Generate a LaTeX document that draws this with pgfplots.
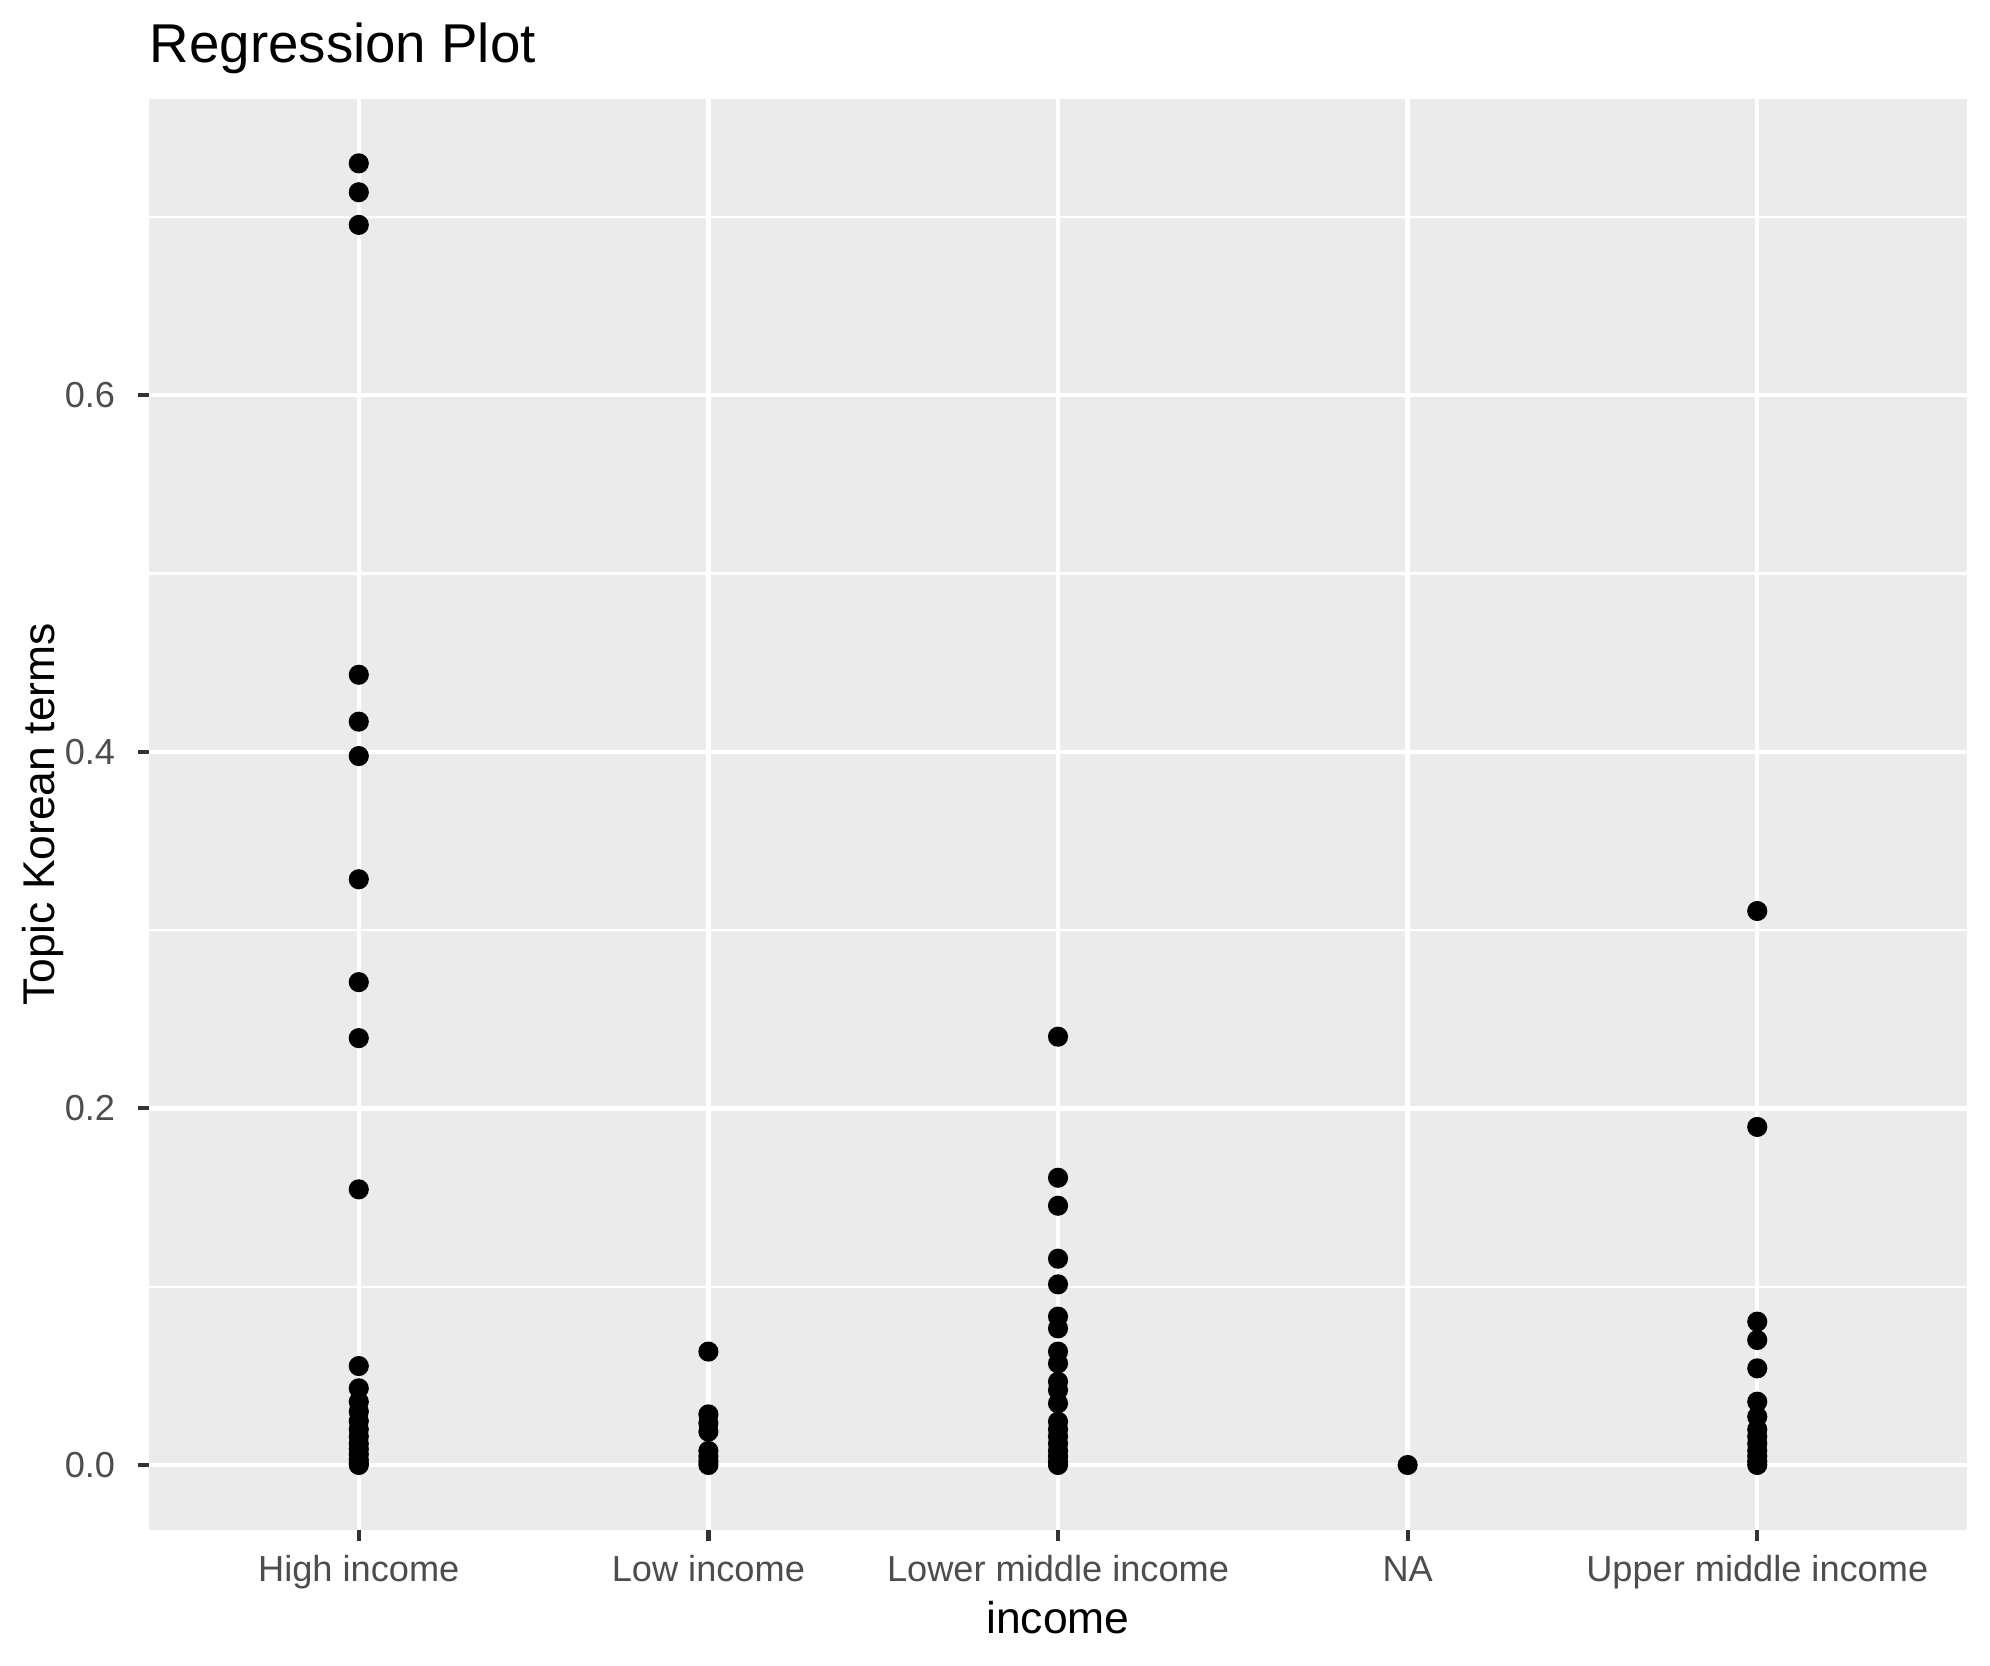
\documentclass[border=0pt]{standalone}
\usepackage{fontspec}
\setmainfont{Liberation Sans}
\usepackage{pgfplots}
\pgfplotsset{compat=1.18}
\usetikzlibrary{calc}
\definecolor{panelbg}{HTML}{EBEBEB}
\definecolor{tickc}{HTML}{333333}
\definecolor{ticklab}{HTML}{4D4D4D}
\begin{document}
\begin{tikzpicture}
\useasboundingbox (0,0) rectangle (504bp,421.69bp);
\begin{axis}[
  at={(37.74bp,34.19bp)}, anchor=south west,
  scale only axis, width=460.44bp, height=362.43bp,
  xmin=-0.6, xmax=4.6, ymin=-0.03646, ymax=0.7661,
  axis background/.style={fill=panelbg},
  axis line style={draw=none},
  xtick={0,1,2,3,4},
  xticklabels={High income, Low income, Lower middle income, NA, Upper middle income},
  ytick={0,0.2,0.4,0.6},
  minor ytick={0.1,0.3,0.5,0.7},
  scaled y ticks=false,
  /pgf/number format/fixed,
  /pgf/number format/fixed zerofill,
  /pgf/number format/precision=1,
  /pgf/number format/assume math mode=true,
  tick pos=left,
  tick align=outside,
  major tick length=2.75bp,
  minor tick length=0pt,
  tick style={draw=tickc, line width=1.07bp},
  xmajorgrids, ymajorgrids, yminorgrids,
  major grid style={draw=white, line width=1.1bp},
  minor grid style={draw=white, line width=0.55bp},
  ticklabel style={font=\fontsize{9.2}{11}\selectfont, text=ticklab},
  xticklabel style={anchor=base, yshift=-10.4bp},
  yticklabel style={anchor=east, inner sep=0pt, xshift=-5.65bp},
  xlabel={income},
  xlabel style={at={(axis description cs:0.5,0)}, anchor=base, yshift=-26.3bp, font=\fontsize{11.3}{13}\selectfont, text=black},
  ylabel={Topic Korean terms},
  ylabel style={at={($(axis description cs:0,0.5)+(-24bp,0)$)}, anchor=base, font=\fontsize{11.3}{13}\selectfont, text=black},
  title={Regression Plot},
  every axis title shift=0pt,
  title style={at={(axis description cs:0,1)}, anchor=base west, inner sep=0pt, yshift=9.2bp, font=\fontsize{13.9}{16}\selectfont, text=black},
]
\addplot[only marks, mark=*, mark size=2.35bp, mark options={draw=none, fill=black}] table {
x y
0 0.730
0 0.7138
0 0.6955
0 0.4432
0 0.4169
0 0.3976
0 0.3285
0 0.2708
0 0.2394
0 0.1546
0 0.0555
0 0.043
0 0.0355
0 0.030
0 0.0247
0 0.020
0 0.016
0 0.012
0 0.009
0 0.006
0 0.003
0 0.001
0 0
1 0.0636
1 0.0284
1 0.0234
1 0.0187
1 0.0079
1 0.0047
1 0.002
1 0
2 0.2402
2 0.1611
2 0.1454
2 0.1157
2 0.1013
2 0.0832
2 0.0766
2 0.0636
2 0.057
2 0.0467
2 0.042
2 0.0346
2 0.0243
2 0.020
2 0.016
2 0.012
2 0.008
2 0.005
2 0.002
2 0
3 0
4 0.3107
4 0.1896
4 0.0804
4 0.0701
4 0.0542
4 0.0355
4 0.0271
4 0.020
4 0.016
4 0.012
4 0.008
4 0.005
4 0.002
4 0
};
\end{axis}
\end{tikzpicture}
\end{document}
